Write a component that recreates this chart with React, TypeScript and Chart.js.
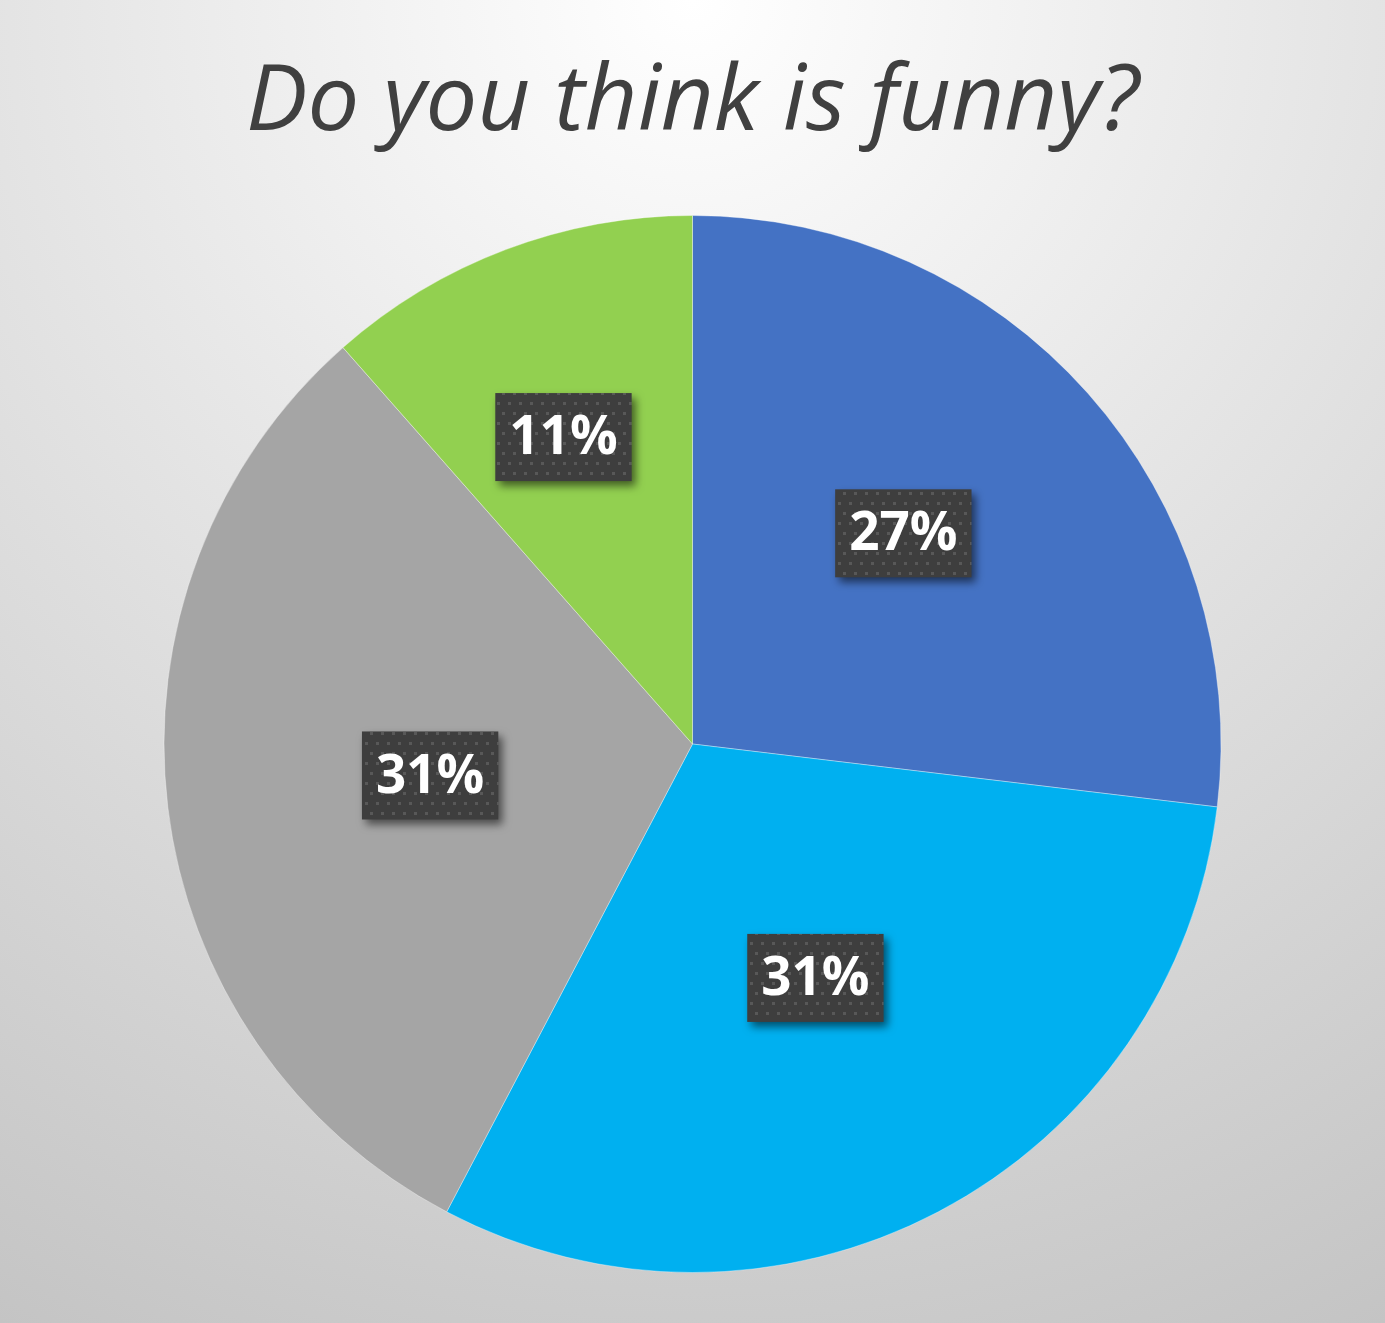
import { useEffect, useRef } from "react";
import { Chart, registerables } from "chart.js";

Chart.register(...registerables);

const TITLE = "Do you think is funny?";
const CATEGORIES = ["Category 1", "Category 2", "Category 3", "Category 4"];
const VALUES = [26.9, 30.8, 30.8, 11.5];
const VALUE_LABELS = ["27%", "31%", "31%", "11%"];
const COLORS = ["#4472C4", "#00B0F0", "#A5A5A5", "#92D050"];

const LABEL_RADIUS = [0.564, 0.5, 0.5, 0.63];
const LABEL_ANGLE_SHIFT = [-3.4, 0, 0, -2.1];

const W = 1385;
const H = 1323;

function makePattern(ctx: CanvasRenderingContext2D) {
  const t = document.createElement("canvas");
  t.width = 11;
  t.height = 20;
  const c = t.getContext("2d")!;
  c.fillStyle = "#3e3e3e";
  c.fillRect(0, 0, 11, 20);
  c.fillStyle = "#585858";
  c.fillRect(2, 2, 3, 3);
  c.fillRect(7, 12, 3, 3);
  return ctx.createPattern(t, "repeat")!;
}

const bgPlugin = {
  id: "bg",
  beforeDraw(chart: any) {
    const ctx = chart.ctx as CanvasRenderingContext2D;
    const w = chart.width, h = chart.height;
    const cx = w / 2;
    const r = Math.hypot(cx, h);
    const g = ctx.createRadialGradient(cx, 0, 0, cx, 0, r);
    g.addColorStop(0, "#ffffff");
    g.addColorStop(1, "#c4c4c4");
    ctx.save();
    ctx.fillStyle = g;
    ctx.fillRect(0, 0, w, h);
    ctx.restore();
  },
};

const labelPlugin = {
  id: "boxLabels",
  afterDatasetsDraw(chart: any) {
    const ctx = chart.ctx as CanvasRenderingContext2D;
    const meta = chart.getDatasetMeta(0);
    const pattern = makePattern(ctx);
    meta.data.forEach((arc: any, i: number) => {
      const { x, y, startAngle, endAngle, outerRadius } = arc.getProps(
        ["x", "y", "startAngle", "endAngle", "outerRadius"],
        true
      );
      const mid = (startAngle + endAngle) / 2 + (LABEL_ANGLE_SHIFT[i] * Math.PI) / 180;
      const rr = outerRadius * LABEL_RADIUS[i];
      const cx = x + Math.cos(mid) * rr;
      const cy = y + Math.sin(mid) * rr;
      const text = VALUE_LABELS[i];
      ctx.save();
      ctx.font = "bold 53px 'Open Sans'";
      const tw = ctx.measureText(text).width;
      const bw = tw + 28;
      const bh = 88;
      ctx.shadowColor = "rgba(0,0,0,0.55)";
      ctx.shadowBlur = 9;
      ctx.shadowOffsetX = 4;
      ctx.shadowOffsetY = 5;
      ctx.fillStyle = pattern;
      ctx.fillRect(cx - bw / 2, cy - bh / 2, bw, bh);
      ctx.restore();
      ctx.save();
      ctx.font = "bold 53px 'Open Sans'";
      ctx.fillStyle = "#ffffff";
      ctx.textAlign = "center";
      ctx.textBaseline = "middle";
      ctx.fillText(text, cx, cy + 2);
      ctx.restore();
    });
  },
};

export default function App() {
  const ref = useRef<HTMLCanvasElement>(null);
  useEffect(() => {
    document.body.style.margin = "0";
    const chart = new Chart(ref.current!, {
      type: "pie",
      data: {
        labels: CATEGORIES,
        datasets: [
          {
            data: VALUES,
            backgroundColor: COLORS,
            borderColor: "rgba(255,255,255,0.35)",
            borderWidth: 1,
          },
        ],
      },
      options: {
        animation: false,
        responsive: false,
        layout: { padding: { top: 0, bottom: 50, left: 0, right: 0 } },
        plugins: {
          legend: { display: false },
          tooltip: { enabled: false },
          title: {
            display: true,
            text: TITLE,
            color: "#404040",
            font: { family: "'Open Sans'", size: 92, style: "italic", weight: "normal", lineHeight: 1.2 },
            padding: { top: 48.8, bottom: 55.8 },
          },
        },
      },
      plugins: [bgPlugin, labelPlugin],
    });
    return () => chart.destroy();
  }, []);
  return (
    <div style={{ width: W, height: H }}>
      <canvas ref={ref} width={W} height={H} style={{ display: "block", width: W, height: H }} />
    </div>
  );
}
